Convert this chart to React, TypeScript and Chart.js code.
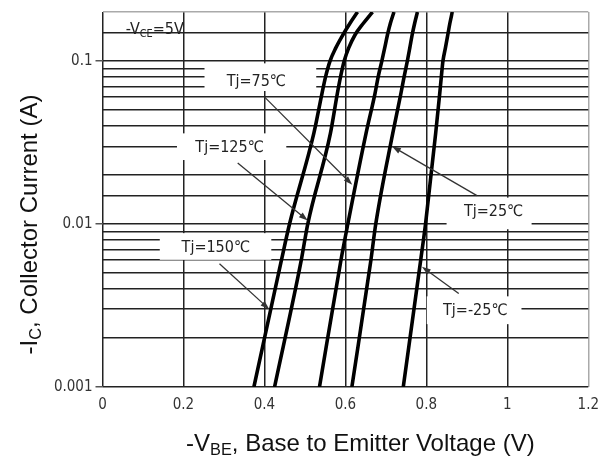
import { useEffect, useRef } from 'react';
import { Chart, registerables } from 'chart.js';

Chart.register(...registerables);

// ---- data ----
const IC = [0.001, 0.006, 0.01, 0.036, 0.063, 0.08, 0.1, 0.12, 0.145, 0.17, 0.2];
const VBE_150 = [0.374, 0.442, 0.462, 0.522, 0.542, 0.551, 0.562, 0.576, 0.594, 0.611, 0.63];
const VBE_125 = [0.425, 0.491, 0.507, 0.563, 0.58, 0.588, 0.597, 0.608, 0.624, 0.644, 0.667];
const VBE_75 = [0.536, 0.589, 0.606, 0.651, 0.673, 0.681, 0.69, 0.697, 0.704, 0.711, 0.72];
const VBE_25 = [0.616, 0.663, 0.675, 0.717, 0.737, 0.745, 0.753, 0.759, 0.765, 0.771, 0.778];
const VBE_M25 = [0.743, 0.786, 0.798, 0.823, 0.833, 0.837, 0.841, 0.847, 0.853, 0.858, 0.864];

const SERIES = [VBE_150, VBE_125, VBE_75, VBE_25, VBE_M25];

const X_MIN = 0;
const X_MAX = 1.2;
const X_STEP = 0.2;
const Y_MIN = 0.001;
const Y_MAX = 0.2;

// annotation labels
const LABELS = ['Tj=75℃', 'Tj=125℃', 'Tj=150℃', 'Tj=25℃', 'Tj=-25℃'];
const LABEL_V = [0.38, 0.314, 0.28, 0.966, 0.921];
const LABEL_I = [0.0743, 0.0292, 0.00713, 0.01194, 0.00292];
const BOX_V0 = [0.252, 0.184, 0.1415, 0.85, 0.801];
const BOX_V1 = [0.528, 0.454, 0.417, 1.06, 1.035];
const BOX_I_TOP = [0.0968, 0.036, 0.00879, 0.01452, 0.0036];
const BOX_I_BOT = [0.0655, 0.0247, 0.00603, 0.00929, 0.00243];
const ARROW_FROM_V = [0.4, 0.334, 0.289, 0.925, 0.88];
const ARROW_FROM_I = [0.0603, 0.0237, 0.0057, 0.01494, 0.00375];
const ARROW_TO_V = [0.617, 0.507, 0.412, 0.715, 0.789];
const ARROW_TO_I = [0.0174, 0.0105, 0.003, 0.03, 0.00547];

const COND_LABEL_V = 0.129;
const COND_LABEL_I = 0.16;

const NARROW = '"Liberation Sans Narrow", "Arial Narrow", "DejaVu Sans Condensed", sans-serif';
const SANS = '"Liberation Sans", Arial, sans-serif';

type Part = { t: string; sub?: boolean };

function richWidth(ctx: CanvasRenderingContext2D, parts: Part[], size: number, family: string) {
  let w = 0;
  for (const p of parts) {
    ctx.font = `${p.sub ? size * 0.68 : size}px ${family}`;
    w += ctx.measureText(p.t).width;
  }
  return w;
}

function drawRich(ctx: CanvasRenderingContext2D, parts: Part[], cx: number, cy: number, size: number, family: string) {
  const w = richWidth(ctx, parts, size, family);
  let x = cx - w / 2;
  ctx.textAlign = 'left';
  ctx.textBaseline = 'alphabetic';
  const base = cy + size * 0.36;
  for (const p of parts) {
    const s = p.sub ? size * 0.68 : size;
    ctx.font = `${s}px ${family}`;
    ctx.fillText(p.t, x, p.sub ? base + size * 0.2 : base);
    x += ctx.measureText(p.t).width;
  }
}

function isDecade(v: number) {
  const l = Math.log10(v);
  return Math.abs(l - Math.round(l)) < 1e-6;
}

const annotationPlugin = {
  id: 'annot',
  beforeDatasetsDraw(chart: any) {
    const { ctx, scales } = chart;
    const xs = scales.x;
    const ys = scales.y;
    ctx.save();
    ctx.fillStyle = '#ffffff';
    for (let i = 0; i < LABELS.length; i++) {
      const x0 = xs.getPixelForValue(BOX_V0[i]);
      const x1 = xs.getPixelForValue(BOX_V1[i]);
      const y0 = ys.getPixelForValue(BOX_I_TOP[i]);
      const y1 = ys.getPixelForValue(BOX_I_BOT[i]);
      ctx.fillRect(x0, y0, x1 - x0, y1 - y0);
    }
    ctx.restore();
  },
  afterDatasetsDraw(chart: any) {
    const { ctx, scales } = chart;
    const xs = scales.x;
    const ys = scales.y;
    ctx.save();
    // arrows
    ctx.strokeStyle = '#333';
    ctx.fillStyle = '#333';
    ctx.lineWidth = 1.3;
    for (let i = 0; i < LABELS.length; i++) {
      const ax = xs.getPixelForValue(ARROW_FROM_V[i]);
      const ay = ys.getPixelForValue(ARROW_FROM_I[i]);
      const bx = xs.getPixelForValue(ARROW_TO_V[i]);
      const by = ys.getPixelForValue(ARROW_TO_I[i]);
      const ang = Math.atan2(by - ay, bx - ax);
      const hl = 9;
      const hw = 3;
      ctx.beginPath();
      ctx.moveTo(ax, ay);
      ctx.lineTo(bx - Math.cos(ang) * hl * 0.8, by - Math.sin(ang) * hl * 0.8);
      ctx.stroke();
      ctx.beginPath();
      ctx.moveTo(bx, by);
      ctx.lineTo(bx - Math.cos(ang) * hl - Math.sin(ang) * hw, by - Math.sin(ang) * hl + Math.cos(ang) * hw);
      ctx.lineTo(bx - Math.cos(ang) * hl + Math.sin(ang) * hw, by - Math.sin(ang) * hl - Math.cos(ang) * hw);
      ctx.closePath();
      ctx.fill();
    }
    // labels
    ctx.fillStyle = '#222';
    ctx.textAlign = 'center';
    ctx.textBaseline = 'middle';
    ctx.font = `16px ${NARROW}`;
    for (let i = 0; i < LABELS.length; i++) {
      ctx.fillText(LABELS[i], xs.getPixelForValue(LABEL_V[i]), ys.getPixelForValue(LABEL_I[i]));
    }
    // condition label
    drawRich(
      ctx,
      [{ t: '-V' }, { t: 'CE', sub: true }, { t: '=5V' }],
      xs.getPixelForValue(COND_LABEL_V),
      ys.getPixelForValue(COND_LABEL_I),
      16,
      NARROW
    );
    ctx.restore();
  },
  afterDraw(chart: any) {
    const { ctx, chartArea } = chart;
    ctx.save();
    ctx.fillStyle = '#111';
    const cx = (chartArea.left + chartArea.right) / 2 + 15;
    drawRich(
      ctx,
      [{ t: '-V' }, { t: 'BE', sub: true }, { t: ', Base to Emitter Voltage (V)' }],
      cx,
      chartArea.bottom + 55,
      24,
      SANS
    );
    ctx.translate(28, (chartArea.top + chartArea.bottom) / 2 + 25);
    ctx.rotate(-Math.PI / 2);
    drawRich(ctx, [{ t: '-I' }, { t: 'C', sub: true }, { t: ', Collector Current (A)' }], 0, 0, 24, SANS);
    ctx.restore();
  },
};

export default function App() {
  const ref = useRef<HTMLCanvasElement | null>(null);

  useEffect(() => {
    if (!ref.current) return;
    const datasets = SERIES.map((vs, k) => ({
      label: LABELS[k],
      data: vs.map((v, i) => ({ x: v, y: IC[i] })),
      borderColor: '#000',
      borderWidth: 3.6,
      pointRadius: 0,
      fill: false,
      cubicInterpolationMode: 'monotone' as const,
    }));
    const chart = new Chart(ref.current, {
      type: 'line',
      data: { datasets },
      plugins: [annotationPlugin],
      options: {
        animation: false,
        responsive: false,
        layout: { padding: { left: 0, right: 18, top: 7, bottom: 0 } },
        plugins: { legend: { display: false }, tooltip: { enabled: false } },
        scales: {
          x: {
            type: 'linear',
            min: X_MIN,
            max: X_MAX,
            ticks: {
              stepSize: X_STEP,
              padding: 9,
              color: '#333',
              font: { family: NARROW, size: 15 },
              callback: (v: any) => String(Math.round(Number(v) * 10) / 10),
            },
            grid: {
              color: (c: any) => (c.tick && Math.abs(c.tick.value - X_MAX) < 1e-9 ? '#aaa' : '#222'),
              lineWidth: 1.5,
              drawTicks: false,
            },
            border: { display: false },
            afterFit: (s: any) => {
              s.height = 71;
            },
          },
          y: {
            type: 'logarithmic',
            min: Y_MIN,
            max: Y_MAX,
            ticks: {
              autoSkip: false,
              padding: 3,
              color: '#333',
              font: { family: NARROW, size: 15 },
              callback: (v: any) => (isDecade(Number(v)) ? String(Number(v)) : ''),
            },
            grid: {
              color: (c: any) => (c.tick && Math.abs(c.tick.value - Y_MAX) < 1e-9 ? '#aaa' : '#222'),
              lineWidth: 1.5,
              tickLength: 7,
              tickColor: (c: any) => (c.tick && isDecade(c.tick.value) ? '#555' : 'rgba(0,0,0,0)'),
            },
            border: { display: false },
            afterFit: (s: any) => {
              s.width = 102.5;
            },
          },
        },
      },
    });
    return () => chart.destroy();
  }, []);

  return (
    <div style={{ position: 'absolute', left: 0, top: 0, width: 608, height: 458, background: '#fff' }}>
      <canvas ref={ref} width={608} height={458} style={{ display: 'block' }} />
    </div>
  );
}
